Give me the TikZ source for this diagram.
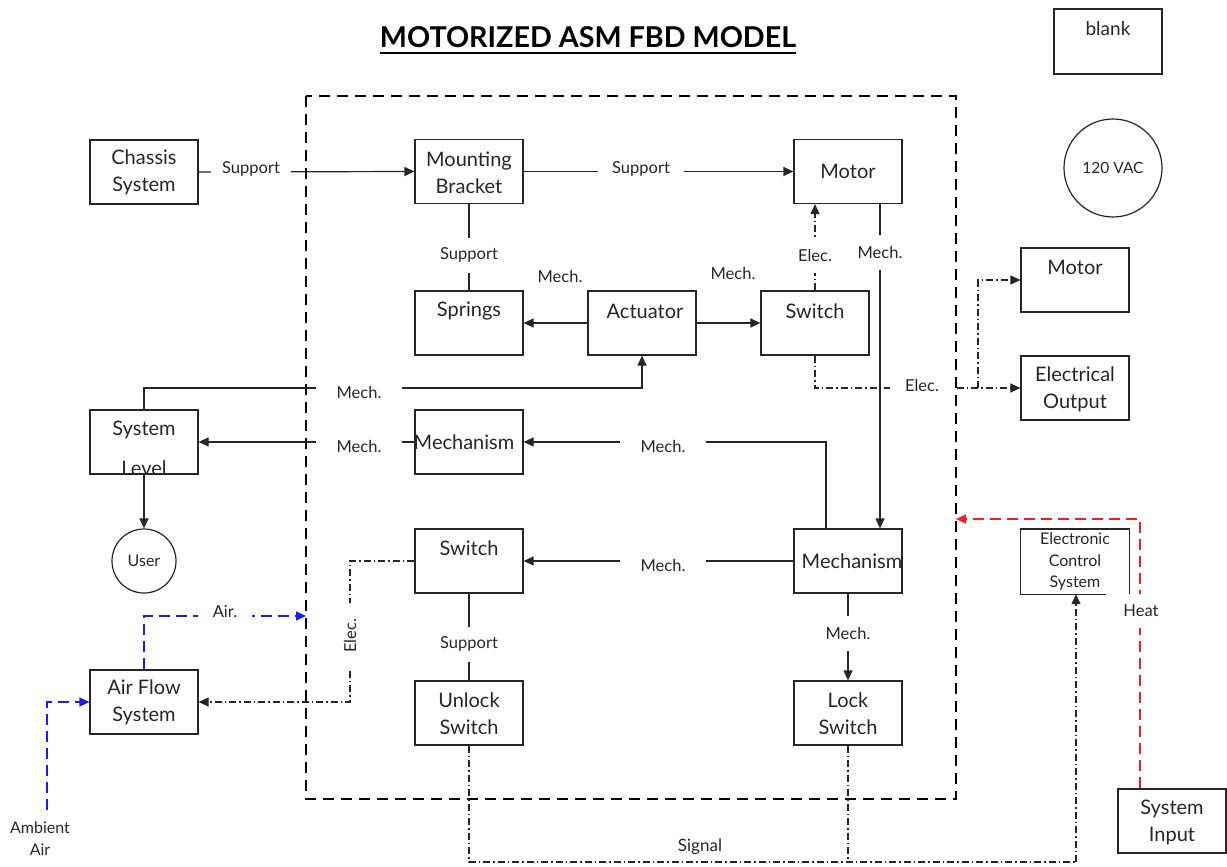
\documentclass[tikz,border=0pt]{standalone}
\usepackage{fontspec}
\setmainfont{Lato}
\usetikzlibrary{arrows.meta,calc}
\definecolor{ink}{HTML}{262626}
\definecolor{airblue}{HTML}{1A1AFF}
\definecolor{heatred}{HTML}{FF1A1A}
\begin{document}
\begin{tikzpicture}[x=1pt,y=-1pt,
  box/.style={draw=ink,line width=1.2pt,minimum width=108pt,minimum height=64pt,inner sep=0pt},
  txt/.style={font=\fontsize{20}{27}\selectfont,align=center,inner sep=0pt,text=ink},
  stxt/.style={font=\fontsize{16}{21.5}\selectfont,align=center,inner sep=0pt,text=ink},
  lbl/.style={font=\fontsize{16.5}{20}\selectfont,fill=white,inner sep=0pt,text=ink,minimum height=16pt},
  lblh/.style={lbl,minimum width=86pt},
  lblv/.style={lbl,minimum width=10pt,minimum height=35pt},
  con/.style={line width=1.2pt,draw=ink},
  tip/.style={-{Triangle[length=10pt,width=9pt]}},
  arr/.style={con,tip},
  elec/.style={line width=1.1pt,draw=ink,dash pattern=on 7pt off 3pt on 1.5pt off 3pt},
  earr/.style={elec,tip},
  airline/.style={line width=1.3pt,draw=airblue,dash pattern=on 11pt off 6pt,-{Triangle[length=10pt,width=9pt]}},
  heatline/.style={line width=1.3pt,draw=heatred,dash pattern=on 11pt off 6pt,-{Triangle[length=10pt,width=9pt]}},
  frame/.style={line width=2.6pt,draw=black,dash pattern=on 11pt off 7pt}
]
\useasboundingbox (0,0) rectangle (1227,867);

% title
\node[font=\fontsize{28.7}{34}\selectfont\bfseries,inner sep=0pt,text=black] (title) at (588,37) {MOTORIZED ASM FBD MODEL};
\draw[line width=2pt] ($(title.base west)+(0,6)$) -- ($(title.base east)+(0,6)$);

% legend items
\node[box,minimum height=65pt] (blank) at (1108,41.5) {};
\node[txt,font=\fontsize{19}{23}\selectfont] (blankt) at (1108,29) {blank};
\node[draw=ink,line width=1.2pt,circle,minimum size=98pt,inner sep=0pt,font=\fontsize{15.5}{18}\selectfont,text=ink] (vac) at (1113,168) {120 VAC};

% frame
\draw[frame] (306,96) rectangle (956,799);

% boxes
\node[box] (chassis) at (144,172) {};
\node[txt] (chassist) at (144,172) {Chassis\\System};
\node[box] (mb) at (469,171.5) {};
\node[txt] (mbt) at (469,172.5) {Mounting\\Bracket};
\node[box] (motor1) at (848,171.5) {};
\node[txt] (motor1t) at (848,171) {Motor};
\node[box] (springs) at (469,323) {};
\node[txt] (springst) at (469,311) {Springs};
\node[box] (act) at (642,323) {};
\node[txt] (actt) at (645,311) {Actuator};
\node[box] (sw1) at (815,323) {};
\node[txt] (sw1t) at (815,311) {Switch};
\node[box] (motor2) at (1075,280) {};
\node[txt] (motor2t) at (1075,267) {Motor};
\node[box] (eout) at (1075,388) {};
\node[txt] (eoutt) at (1075,389.5) {Electrical\\Output};
\node[box] (sys) at (144,442) {};
\node[txt] (syst1) at (144,430) {System};
\node[txt] (syst2) at (144,468) {Level};
\node[box] (mech1) at (469,442) {};
\node[txt] (mech1t) at (464,442) {Mechanism};
\node[draw=ink,line width=1.2pt,circle,minimum size=64pt,inner sep=0pt,font=\fontsize{16}{19}\selectfont,text=ink] (user) at (144,561) {User};
\node[box] (sw2) at (469,561) {};
\node[txt] (sw2t) at (469,548) {Switch};
\node[box] (mech2) at (848,561) {};
\node[txt] (mech2t) at (852,561) {Mechanism};
\node[box,draw=none] (ecs) at (1075,561.5) {};
\draw[line width=1.2pt,draw=ink] ($(ecs.south west)+(86,0)$) -- (ecs.south west) -- (ecs.north west) -- (ecs.north east) -- (ecs.south east);
\node[stxt] (ecst) at (1075,561.5) {Electronic\\Control\\System};
\node[box] (air) at (144,702) {};
\node[txt] (airt) at (144,702.5) {Air Flow\\System};
\node[box] (unlock) at (469,713) {};
\node[txt] (unlockt) at (469,713.5) {Unlock\\Switch};
\node[box] (lock) at (848,713) {};
\node[txt] (lockt) at (848,713.5) {Lock\\Switch};
\node[box] (sysin) at (1172,821) {};
\node[txt] (sysint) at (1172,822) {System\\Input};
\node[stxt,align=center,font=\fontsize{16}{22}\selectfont] (amb) at (40,839) {Ambient\\Air};

% connectors
\draw[arr] (chassis.east) -- (mb.west);
\node[lbl,minimum width=80pt] (l1) at (251,169) {Support};
\draw[arr] (mb.east) -- (motor1.west);
\node[lblh] (l2) at (641,169) {Support};
\draw[con] (mb.south) -- (springs.north);
\node[lblv] (l3) at (469,255) {Support};
\draw[arr] (act.west) -- (springs.east);
\node[stxt,font=\fontsize{16.5}{20}\selectfont] (l4) at (560,276) {Mech.};
\draw[arr] (act.east) -- (sw1.west);
\node[stxt,font=\fontsize{16.5}{20}\selectfont] (l5) at (733,273) {Mech.};
\draw[earr] (sw1.north) -- (motor1.south -| sw1.north);
\node[lblv] (l6) at (815,255) {Elec.};
\draw[arr] (motor1.south -| 880,0) -- (mech2.north -| 880,0);
\node[lblv] (l7) at (880,252) {Mech.};

\coordinate (br) at (978,388);
\draw[earr] (sw1.south) |- (eout.west);
\draw[earr] (br) |- (motor2.west);
\node[lbl,minimum width=64pt] (l8) at (922,385) {Elec.};

\draw[arr] (sys.north) |- (act.south |- 0,388) -- (act.south);
\node[lblh] (l9) at (359,392) {Mech.};
\draw[arr] (mech1.west) -- (sys.east);
\node[lblh] (l10) at (359,446) {Mech.};
\draw[arr] (sys.south) -- (user.north);
\draw[arr] (mech2.north -| 826,0) |- (mech1.east);
\node[lblh] (l11) at (663,446) {Mech.};
\draw[arr] (mech2.west) -- (sw2.east);
\node[lblh] (l12) at (663,565) {Mech.};

\draw[earr] (sw2.west) -| (350,702) -- (air.east);
\node[lbl,rotate=90,minimum width=66pt] (l13) at (350,636) {Elec.};
\draw[con] (sw2.south) -- (unlock.north);
\node[lblv] (l14) at (469,644) {Support};
\draw[arr] (mech2.south) -- (lock.north);
\node[lblv] (l15) at (848,633) {Mech.};

\draw[airline] (air.north) |- (306,616);
\node[lbl,minimum width=54pt] (l16) at (225,612) {Air.};
\draw[airline] (47,810) |- (air.west);

\draw[heatline] (sysin.north -| 1140,0) |- (956,519);
\node[lbl,minimum height=34pt,minimum width=10pt] (l17) at (1141,611) {Heat};

\draw[elec] (unlock.south) |- (1076,862);
\draw[elec] (lock.south) -- (lock.south |- 0,862);
\draw[earr] (1076,862) -- (ecs.south -| 1076,0);
\node[stxt,font=\fontsize{17}{20}\selectfont] (l18) at (700,847) {Signal};
\end{tikzpicture}
\end{document}
